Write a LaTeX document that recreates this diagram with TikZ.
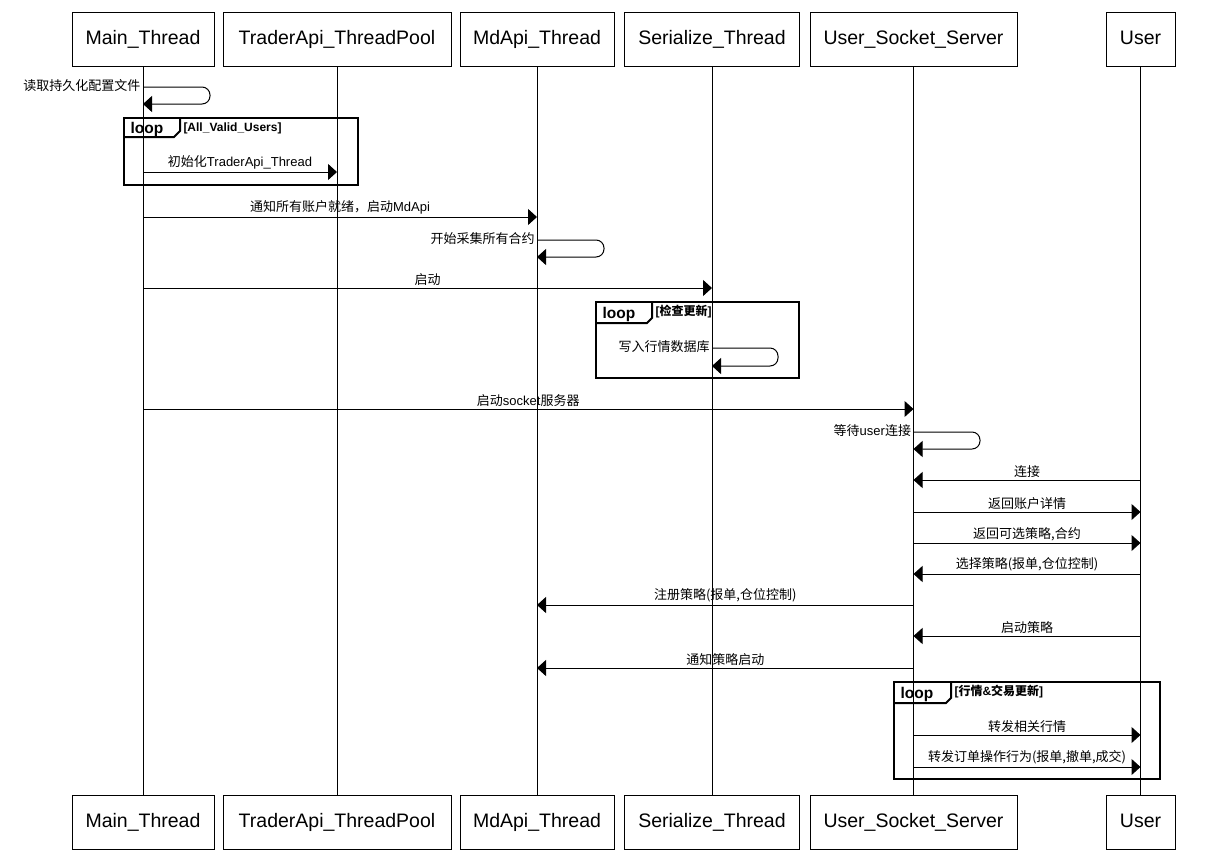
\documentclass[tikz,border=0pt]{standalone}
\usepackage{fontspec}
\setmainfont{Liberation Sans}
\newfontfamily\cjk{Noto Sans CJK SC}
\usetikzlibrary{arrows.meta}
\newcommand{\zh}[1]{{\cjk #1}}

\begin{document}
\begin{tikzpicture}[x=0.5pt, y=-0.5pt, >={Triangle[length=4.5pt,width=8pt]}, line width=0.5pt]
	\tikzstyle{actor}=[draw, minimum height=27pt, inner sep=0pt, text height=7pt, text depth=2pt, font=\fontsize{9.75}{12}\selectfont]
	\tikzstyle{lbl}=[font=\fontsize{6.5}{8}\selectfont, inner sep=1pt]
	\tikzstyle{frame}=[line width=1pt]
	\tikzstyle{looptag}=[anchor=west, inner sep=0pt, font=\bfseries\fontsize{7.75}{9}\selectfont]
	\tikzstyle{guard}=[anchor=west, inner sep=0pt, font=\bfseries\fontsize{6}{7}\selectfont]

	\useasboundingbox (0,0) rectangle (1232,852);

	% participants, top and bottom
	\node[actor, minimum width=71pt] (main) at (143,39) {Main\_Thread};
	\node[actor, minimum width=114pt] (trader) at (337,39) {TraderApi\_ThreadPool};
	\node[actor, minimum width=77pt] (md) at (537,39) {MdApi\_Thread};
	\node[actor, minimum width=87.5pt] (ser) at (712,39) {Serialize\_Thread};
	\node[actor, minimum width=103.5pt] (sock) at (913.5,39) {User\_Socket\_Server};
	\node[actor, minimum width=34.5pt] (usr) at (1140.5,39) {User};

	\node[actor, minimum width=71pt] (mainB) at (143,822.5) {Main\_Thread};
	\node[actor, minimum width=114pt] (traderB) at (337,822.5) {TraderApi\_ThreadPool};
	\node[actor, minimum width=77pt] (mdB) at (537,822.5) {MdApi\_Thread};
	\node[actor, minimum width=87.5pt] (serB) at (712,822.5) {Serialize\_Thread};
	\node[actor, minimum width=103.5pt] (sockB) at (913.5,822.5) {User\_Socket\_Server};
	\node[actor, minimum width=34.5pt] (usrB) at (1140.5,822.5) {User};

	% lifelines
	\foreach \a in {main,trader,md,ser,sock,usr}
		\draw (\a) -- (\a B);

	% startup
	\draw[->, rounded corners=4pt] (main |- 0,87) node[lbl, anchor=east, yshift=0.5pt] (m1) {\zh{读取持久化配置文件}} -- (210,87) -- (210,104) -- (main |- 0,104);

	\draw[frame] (124,118) rectangle (358,185);
	\draw[frame] (124,137) -- (174,137) -- (180,131) -- (180,118);
	\node[looptag] (loopA) at (130,129) {loop};
	\node[guard] (guardA) at (183,128) {[All\_Valid\_Users]};
	\draw[->] (main |- 0,172) -- node[lbl, above] (m2) {\zh{初始化}TraderApi\_Thread} (trader |- 0,172);

	\draw[->] (main |- 0,217) -- node[lbl, above] (m3) {\zh{通知所有账户就绪，启动}MdApi} (md |- 0,217);
	\draw[->, rounded corners=4pt] (md |- 0,240) node[lbl, anchor=east, yshift=0.5pt] (m4) {\zh{开始采集所有合约}} -- (604,240) -- (604,257) -- (md |- 0,257);
	\draw[->] (main |- 0,288) -- node[lbl, above] (m5) {\zh{启动}} (ser |- 0,288);

	\draw[frame] (596,302) rectangle (799,378);
	\draw[frame] (596,323) -- (647,323) -- (652,318) -- (652,302);
	\node[looptag] (loopB) at (602,314) {loop};
	\node[guard] (guardB) at (655,312) {[\zh{检查更新}]};
	\draw[->, rounded corners=4pt] (ser |- 0,348) node[lbl, anchor=east, yshift=0.5pt] (m6) {\zh{写入行情数据库}} -- (778,348) -- (778,366) -- (ser |- 0,366);

	% socket server and user
	\draw[->] (main |- 0,409) -- node[lbl, above] (m7) {\zh{启动}socket\zh{服务器}} (sock |- 0,409);
	\draw[->, rounded corners=4pt] (sock |- 0,432) node[lbl, anchor=east, yshift=0.5pt] (m8) {\zh{等待}user\zh{连接}} -- (980,432) -- (980,449) -- (sock |- 0,449);
	\draw[->] (usr |- 0,480) -- node[lbl, above] (m9) {\zh{连接}} (sock |- 0,480);
	\draw[->] (sock |- 0,512) -- node[lbl, above] (m10) {\zh{返回账户详情}} (usr |- 0,512);
	\draw[->] (sock |- 0,543) -- node[lbl, above] (m11) {\zh{返回可选策略,合约}} (usr |- 0,543);
	\draw[->] (usr |- 0,574) -- node[lbl, above] (m12) {\zh{选择策略(报单,仓位控制)}} (sock |- 0,574);
	\draw[->] (sock |- 0,605) -- node[lbl, above] (m13) {\zh{注册策略(报单,仓位控制)}} (md |- 0,605);
	\draw[->] (usr |- 0,636) -- node[lbl, above] (m14) {\zh{启动策略}} (sock |- 0,636);
	\draw[->] (sock |- 0,668) -- node[lbl, above] (m15) {\zh{通知策略启动}} (md |- 0,668);

	\draw[frame] (894,682) rectangle (1160,779);
	\draw[frame] (894,703) -- (946,703) -- (951,698) -- (951,682);
	\node[looptag] (loopC) at (900,694) {loop};
	\node[guard] (guardC) at (954,692) {[\zh{行情}\&\zh{交易更新}]};
	\draw[->] (sock |- 0,735) -- node[lbl, above] (m16) {\zh{转发相关行情}} (usr |- 0,735);
	\draw[->] (sock |- 0,767) -- node[lbl, above] (m17) {\zh{转发订单操作行为(报单,撤单,成交)}} (usr |- 0,767);
\end{tikzpicture}
\end{document}
